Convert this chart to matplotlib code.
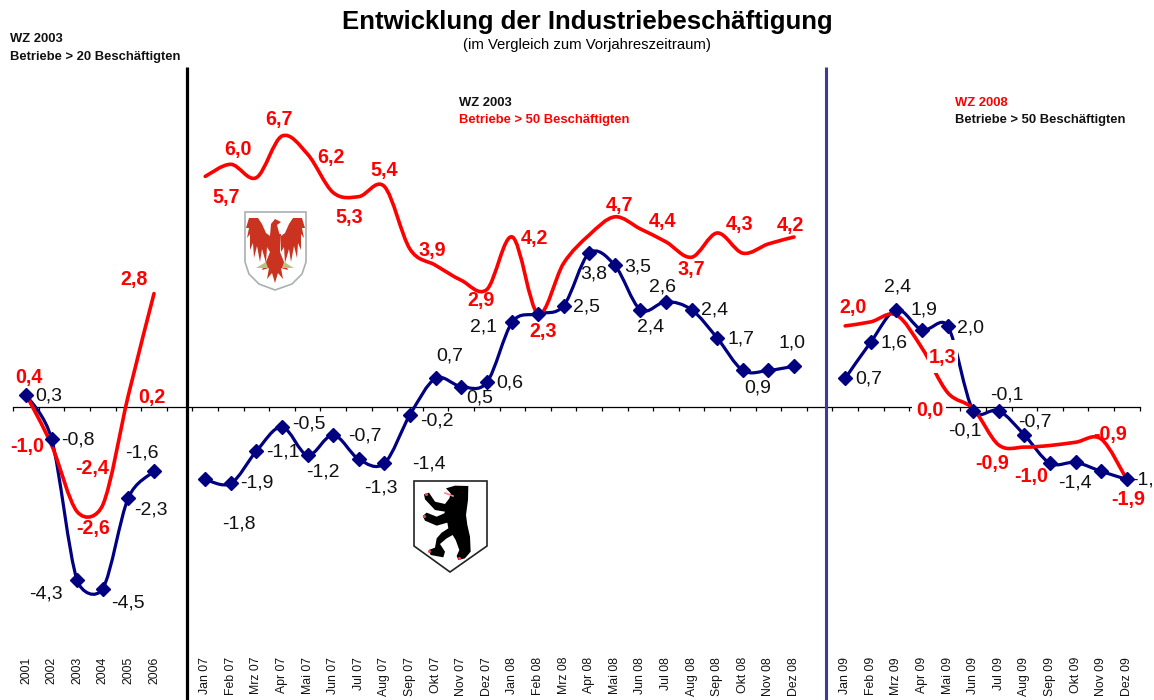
import matplotlib
matplotlib.use("Agg")
import matplotlib.pyplot as plt
import numpy as np
from matplotlib.patches import PathPatch, Polygon, Rectangle
from matplotlib.path import Path

plt.rcParams["font.family"] = ["Liberation Sans", "DejaVu Sans"]

years = ["2001", "2002", "2003", "2004", "2005", "2006"]
months_07 = ["Jan 07", "Feb 07", "Mrz 07", "Apr 07", "Mai 07", "Jun 07",
             "Jul 07", "Aug 07", "Sep 07", "Okt 07", "Nov 07", "Dez 07"]
months_08 = ["Jan 08", "Feb 08", "Mrz 08", "Apr 08", "Mai 08", "Jun 08",
             "Jul 08", "Aug 08", "Sep 08", "Okt 08", "Nov 08", "Dez 08"]
months_09 = ["Jan 09", "Feb 09", "Mrz 09", "Apr 09", "Mai 09", "Jun 09",
             "Jul 09", "Aug 09", "Sep 09", "Okt 09", "Nov 09", "Dez 09"]

# values (Berlin = blue, Brandenburg = red)
blue_years = [0.3, -0.8, -4.3, -4.5, -2.25, -1.6]
red_years = [0.3, -0.95, -2.6, -2.43, 0.29, 2.8]
blue_0708 = [-1.8, -1.9, -1.1, -0.5, -1.2, -0.7, -1.3, -1.4, -0.2, 0.7, 0.5, 0.6,
             2.1, 2.3, 2.5, 3.8, 3.5, 2.4, 2.6, 2.4, 1.7, 0.9, 0.9, 1.0]
red_0708 = [5.7, 6.0, 5.67, 6.7, 6.25, 5.3, 5.2, 5.45, 3.9, 3.5, 3.13, 2.9,
            4.2, 2.3, 3.55, 4.25, 4.7, 4.4, 4.08, 3.7, 4.3, 3.8, 4.03, 4.2]
blue_09 = [0.7, 1.6, 2.4, 1.9, 2.0, -0.1, -0.1, -0.7, -1.4, -1.38, -1.6, -1.8]
red_09 = [2.0, 2.1, 2.27, 1.45, 0.35, -0.05, -0.95, -1.0, -0.96, -0.88, -0.8, -1.8]

# data labels: text and centre in image pixels
black_labels = [
    ("0,3", 48, 395), ("-0,8", 77, 439), ("-4,3", 45, 593), ("-4,5", 127, 602),
    ("-2,3", 150, 509), ("-1,6", 141, 452), ("-1,8", 238, 523), ("-1,9", 256, 482),
    ("-1,1", 282, 451), ("-0,5", 308, 423), ("-1,2", 322, 471), ("-0,7", 364, 435),
    ("-1,3", 380, 487), ("-1,4", 428, 463), ("-0,2", 436, 420), ("0,7", 449, 355),
    ("0,5", 479, 397), ("0,6", 509, 382), ("2,1", 483, 326), ("2,5", 586, 306),
    ("3,8", 593, 273), ("3,5", 637, 266), ("2,6", 662, 286), ("2,4", 650, 326),
    ("2,4", 714, 309), ("1,7", 740, 338), ("1,0", 791, 342), ("0,9", 757, 387),
    ("2,4", 897, 286), ("1,9", 923, 309), ("1,6", 893, 342), ("0,7", 868, 378),
    ("2,0", 970, 327), ("-0,1", 964, 430), ("-0,1", 1006, 394), ("-0,7", 1034, 421),
    ("-1,4", 1074, 482), ("-1,", 1142, 479),
]
red_labels = [
    ("0,4", 28, 377), ("-1,0", 26, 446), ("-2,6", 92, 528), ("-2,4", 91, 468),
    ("0,2", 151, 397), ("2,8", 133, 279), ("5,7", 225, 197), ("6,0", 237, 149),
    ("6,7", 278, 119), ("6,2", 330, 157), ("5,3", 348, 217), ("5,4", 383, 170),
    ("3,9", 432, 250), ("2,9", 480, 300), ("4,2", 534, 238), ("2,3", 542, 331),
    ("4,7", 619, 205), ("4,4", 662, 221), ("3,7", 691, 269), ("4,3", 739, 224),
    ("4,2", 790, 225), ("2,0", 852, 307), ("-0,9", 991, 463), ("-1,0", 1030, 476),
    ("-0,9", 1109, 434), ("-1,9", 1128, 499),
]

NAVY = "#000080"
RED = "#ff0000"
XPX = 25.6
YPX = 40.4


def smooth_path(x, y):
    # spreadsheet style smoothing, worked out in pixel units so a short
    # segment next to a steep one does not overshoot
    pts = np.column_stack([np.asarray(x) * XPX, np.asarray(y) * YPX])
    scale = np.array([XPX, YPX])
    verts = [pts[0] / scale]
    codes = [Path.MOVETO]
    for i in range(len(pts) - 1):
        p0 = pts[max(i - 1, 0)]
        p1 = pts[i]
        p2 = pts[i + 1]
        p3 = pts[min(i + 2, len(pts) - 1)]
        seg = np.hypot(*(p2 - p1))
        t1 = (p2 - p0) / 6
        t2 = (p3 - p1) / 6
        t1 = t1 * min(1, 0.5 * seg / max(np.hypot(*t1), 1e-6))
        t2 = t2 * min(1, 0.5 * seg / max(np.hypot(*t2), 1e-6))
        verts += [(p1 + t1) / scale, (p2 - t2) / scale, p2 / scale]
        codes += [Path.CURVE4, Path.CURVE4, Path.CURVE4]
    return Path(verts, codes)


fig = plt.figure(figsize=(11.54, 7.0), dpi=100, facecolor="white")
ax = fig.add_axes([0, 0, 1, 1])
ax.set_xlim(-26 / XPX, (1154 - 26) / XPX)
ax.set_ylim((406.7 - 700) / YPX, 406.7 / YPX)

# one category axis for all three panels, with empty slots between them
x_years = np.arange(0, 6)
x_0708 = np.arange(7, 31)
x_09 = np.arange(32, 44)

for xs, blue, red in [(x_years, blue_years, red_years),
                      (x_0708, blue_0708, red_0708),
                      (x_09, blue_09, red_09)]:
    ax.add_patch(PathPatch(smooth_path(xs, blue), fc="none", ec=NAVY, lw=2.3,
                           capstyle="round", zorder=3))
    ax.add_patch(PathPatch(smooth_path(xs, red), fc="none", ec=RED, lw=2.6,
                           capstyle="round", zorder=4))
    ax.plot(xs, blue, ls="none", marker="D", ms=6.8, color=NAVY, zorder=5)

for s in ["top", "left", "right"]:
    ax.spines[s].set_visible(False)
ax.spines["bottom"].set_position(("data", 0))
ax.spines["bottom"].set_bounds(-0.5, 43.5)
ax.spines["bottom"].set_linewidth(0.9)
ax.set_yticks([])
ax.set_xticks(list(x_years) + list(x_0708) + list(x_09))
ax.set_xticklabels(years + months_07 + months_08 + months_09, rotation=90, fontsize=8.8,
                   color="#111111")
ax.set_xticks(np.arange(-0.5, 44), minor=True)
ax.tick_params(axis="x", which="major", length=0, pad=180.2)
ax.tick_params(axis="x", which="minor", length=2.6, width=0.9, direction="out")
ax.patch.set_alpha(0)

# overlay in image pixels for separators, emblems and free text
px = fig.add_axes([0, 0, 1, 1])
px.set_xlim(0, 1154)
px.set_ylim(700, 0)
px.axis("off")
px.patch.set_alpha(0)

px.plot([186.5, 186.5], [67, 700], color="black", lw=2.3, solid_capstyle="butt")
px.plot([826, 826], [67, 700], color="#3b3b9e", lw=2.2, solid_capstyle="butt")

for txt, x, y in black_labels:
    px.text(x + 0.7, y + 0.7, txt, ha="center", va="center", fontsize=14, color="#111111")
for txt, x, y in red_labels:
    px.text(x + 0.7, y + 0.7, txt, ha="center", va="center", fontsize=14.2, color=RED,
            fontweight="bold")

# these two labels sit on a white box that hides the lines behind them
px.add_patch(Rectangle((927, 340), 31, 33, fc="white", ec="none", zorder=5))
px.add_patch(Rectangle((912, 401), 34, 20, fc="white", ec="none", zorder=5))
px.text(942.7, 357.7, "1,3", ha="center", va="center", fontsize=14.2, color=RED,
        fontweight="bold", zorder=6)
px.text(929.7, 410.7, "0,0", ha="center", va="center", fontsize=14.2, color=RED,
        fontweight="bold", zorder=6)

px.text(587, 22, "Entwicklung der Industriebeschäftigung", ha="center", va="center",
        fontsize=18.5, fontweight="bold")
px.text(587, 45, "(im Vergleich zum Vorjahreszeitraum)", ha="center", va="center", fontsize=10.7)

HEAD = dict(ha="left", va="center", fontsize=9.35, fontweight="bold")
px.text(10, 39, "WZ 2003", color="#111111", **HEAD)
px.text(10, 57, "Betriebe > 20 Beschäftigten", color="#111111", **HEAD)
px.text(459, 103, "WZ 2003", color="#111111", **HEAD)
px.text(459, 120, "Betriebe > 50 Beschäftigten", color=RED, **HEAD)
px.text(955, 103, "WZ 2008", color=RED, **HEAD)
px.text(955, 120, "Betriebe > 50 Beschäftigten", color="#111111", **HEAD)

# Brandenburg emblem
shield = [(245, 212), (306, 212), (306, 262), (302, 274), (292, 284), (275, 290),
          (259, 284), (249, 274), (245, 262)]
px.add_patch(Polygon(shield, closed=True, fc="white", ec="#a9b0b0", lw=1.2))
EAGLE = "#c9331f"
wing = [(249, 218), (258, 218), (262, 224), (266, 233), (270, 236), (270, 252), (267, 247),
        (266, 263), (262, 249), (260, 262), (257, 246), (254, 258), (253, 243), (250, 250),
        (250, 234), (247, 238), (249, 228), (246, 228)]
px.add_patch(Polygon(wing, closed=True, fc=EAGLE, ec="none"))
px.add_patch(Polygon([(551 - x, y) for x, y in wing], closed=True, fc=EAGLE, ec="none"))
body = [(270, 234), (281, 234), (280, 252), (284, 262), (288, 270), (281, 268), (283, 279),
        (278, 273), (275, 283), (272, 273), (267, 279), (269, 268), (262, 270), (266, 262),
        (270, 252)]
px.add_patch(Polygon(body, closed=True, fc=EAGLE, ec="none"))
head = [(270, 236), (271, 224), (275, 219), (281, 222), (277, 225), (280, 236)]
px.add_patch(Polygon(head, closed=True, fc=EAGLE, ec="none"))
for claw in [[(256, 268), (266, 262), (268, 268)], [(294, 268), (284, 262), (282, 268)]]:
    px.add_patch(Polygon(claw, closed=True, fc="#b9c47f", ec="none"))

# Berlin emblem
berlin = [(414, 481), (487, 481), (487, 546), (450, 572), (414, 546)]
px.add_patch(Polygon(berlin, closed=True, fc="white", ec="#222222", lw=1.2))
bear_zoom = [(168, 265), (195, 257), (235, 258), (234, 300), (228, 345), (232, 375), (240, 410),
             (242, 455), (225, 475), (205, 480), (200, 468), (208, 450), (197, 420), (188, 405),
             (170, 415), (150, 432), (165, 455), (160, 472), (122, 465), (116, 450), (135, 443),
             (140, 415), (155, 398), (175, 385), (172, 368), (140, 377), (105, 362), (98, 348),
             (110, 338), (140, 350), (163, 340), (165, 335), (135, 330), (105, 298), (102, 283),
             (117, 278), (135, 305), (165, 312), (178, 295), (182, 280)]
bear = [(390 + x / 3, 400 + y / 3) for x, y in bear_zoom]
px.add_patch(Polygon(bear, closed=True, fc="black", ec="none"))
for cx, cy in [(426, 494), (424, 516), (429, 551), (459, 558)]:
    px.plot(cx, cy, marker="o", ms=2.2, color="#ff4050", mew=0)
px.plot([445, 453], [493, 496], color="#ff8090", lw=1.2)

fig.savefig("out.png", dpi=100)
